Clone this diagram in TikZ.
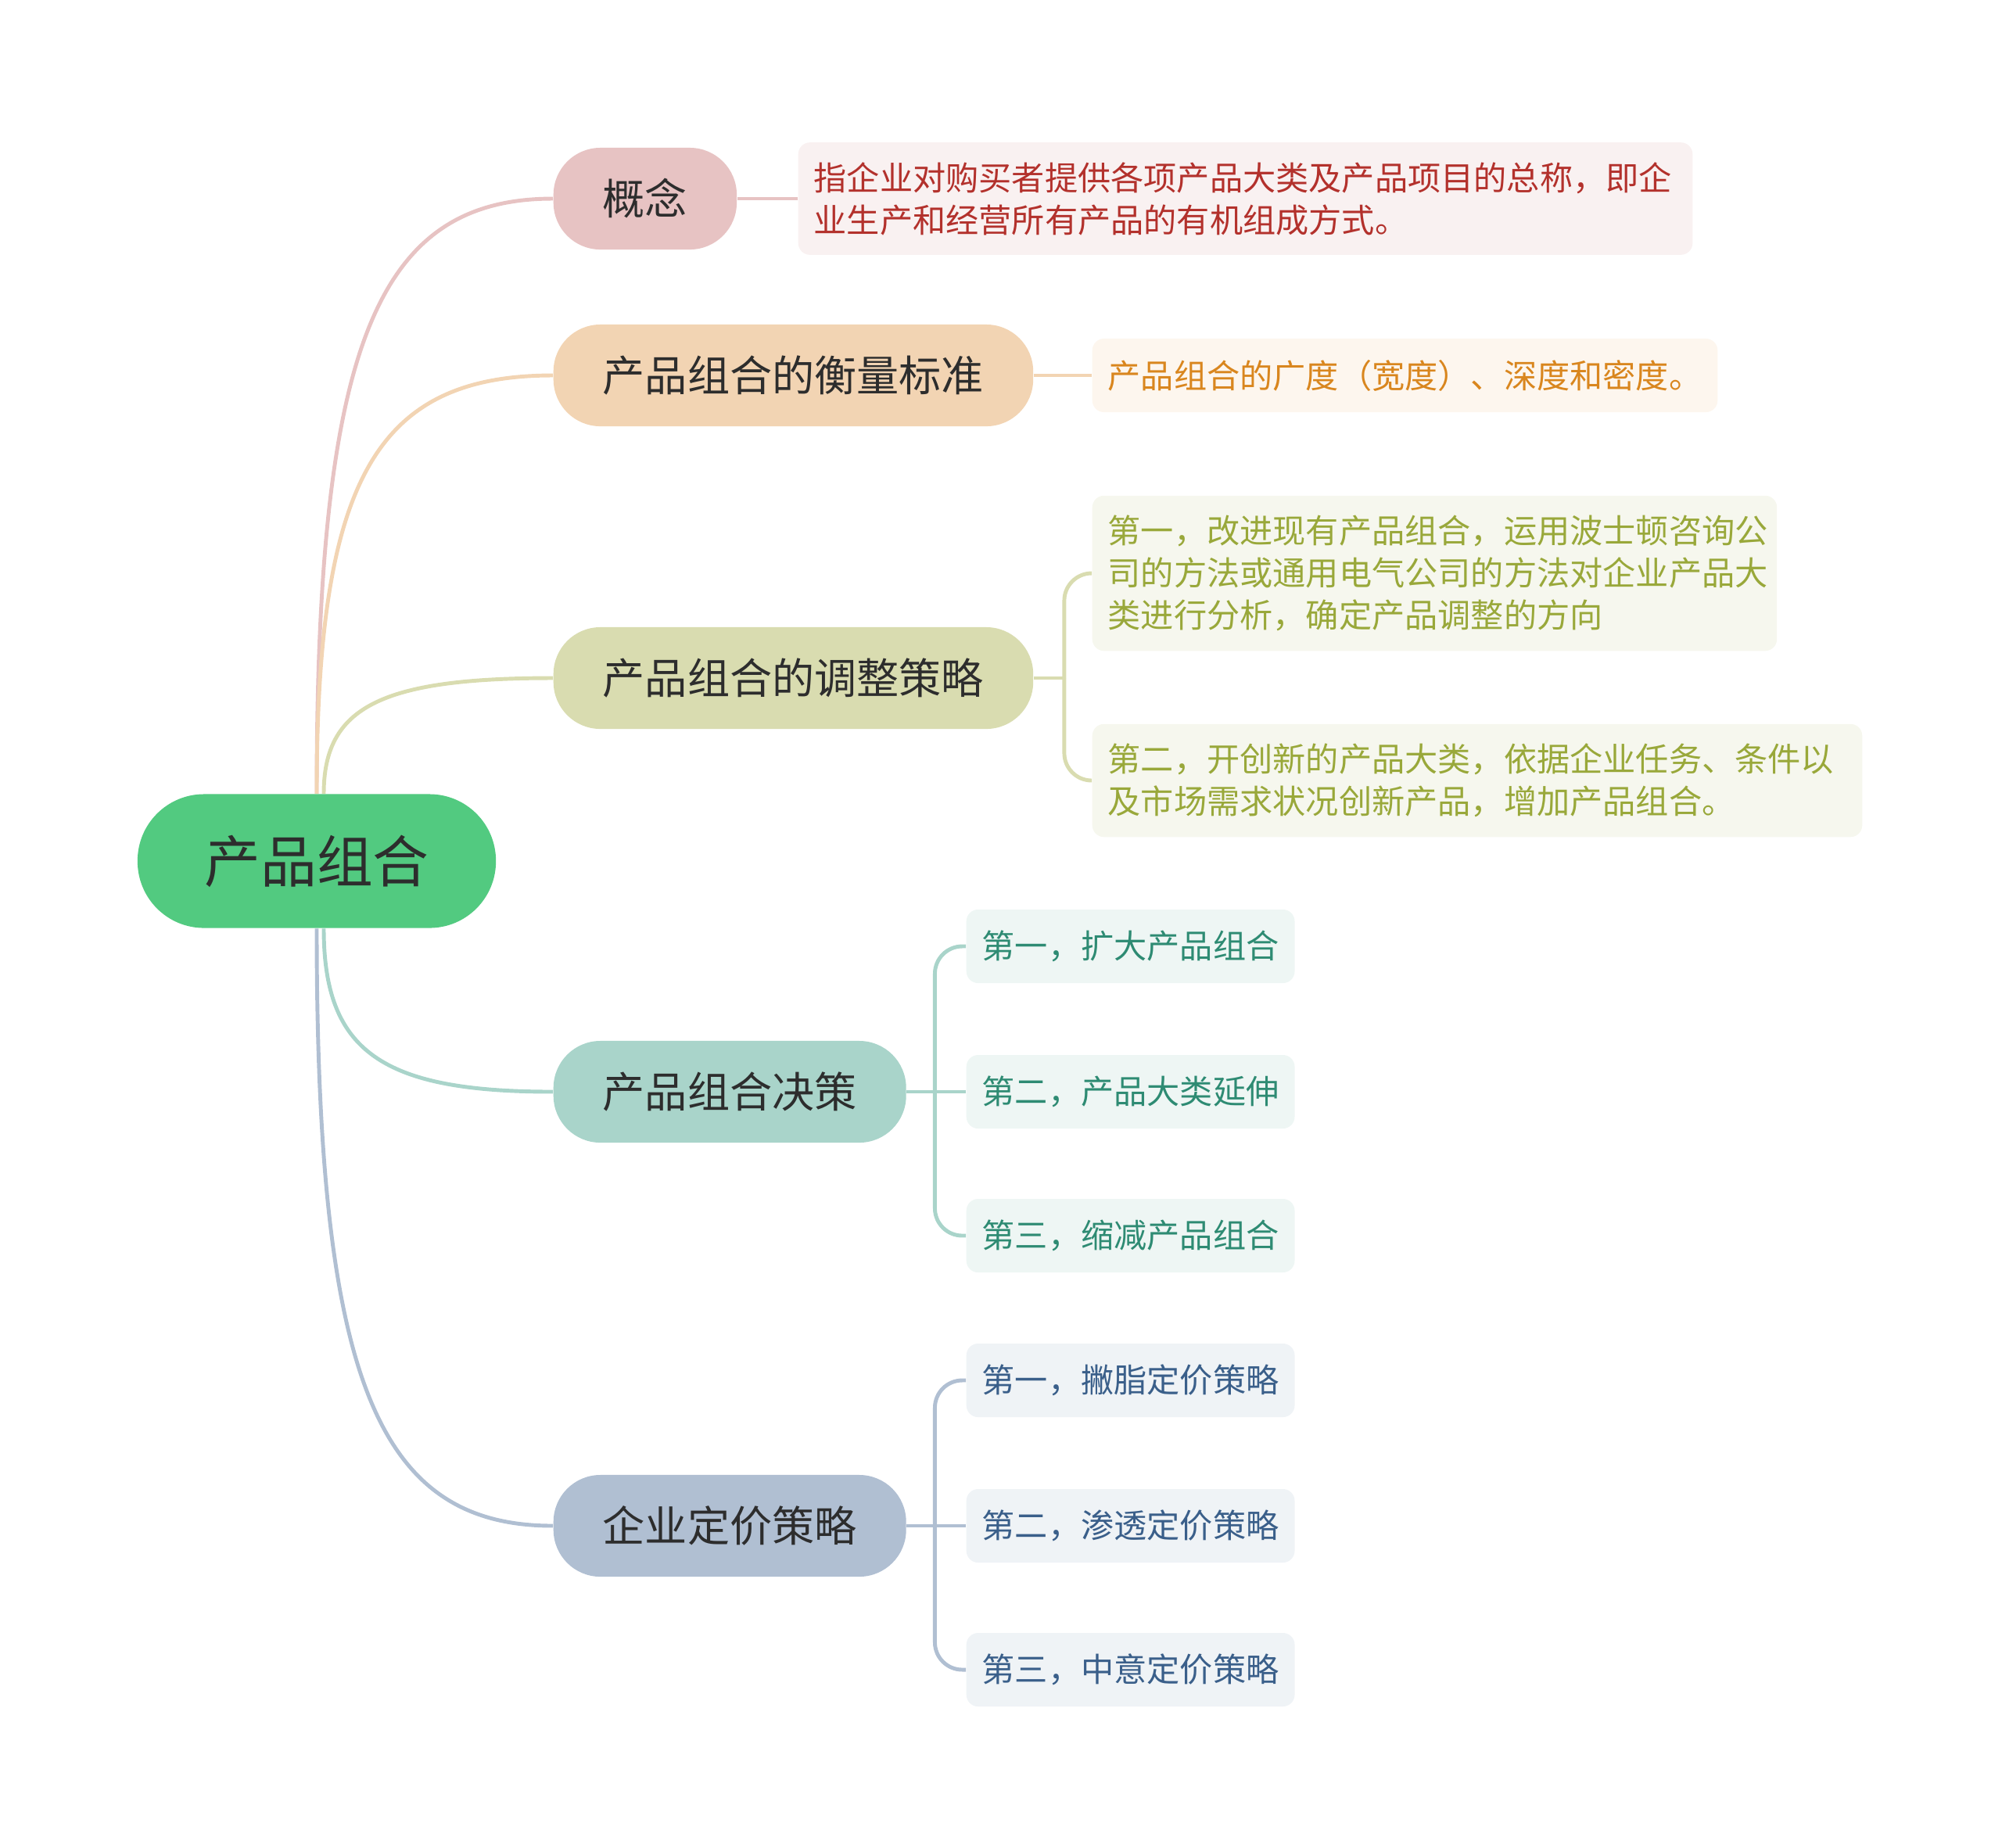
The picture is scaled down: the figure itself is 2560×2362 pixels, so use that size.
\documentclass[tikz,border=0pt]{standalone}
\usepackage{fontspec}
\setmainfont{Noto Sans CJK SC}
\usetikzlibrary{positioning,calc}
\definecolor{rootgreen}{RGB}{82,202,128}
\definecolor{textdark}{RGB}{45,45,45}
\definecolor{topicpink}{RGB}{231,195,195}
\definecolor{topicsand}{RGB}{242,212,179}
\definecolor{topicolive}{RGB}{217,220,176}
\definecolor{topicteal}{RGB}{169,212,202}
\definecolor{topicblue}{RGB}{176,191,210}
\definecolor{leafpink}{RGB}{249,241,241}
\definecolor{leafsand}{RGB}{253,246,238}
\definecolor{leafolive}{RGB}{246,247,238}
\definecolor{leafteal}{RGB}{238,246,244}
\definecolor{leafblue}{RGB}{239,243,246}
\definecolor{inkred}{RGB}{179,49,44}
\definecolor{inkorange}{RGB}{217,134,30}
\definecolor{inkolive}{RGB}{153,168,58}
\definecolor{inkteal}{RGB}{46,139,115}
\definecolor{inkblue}{RGB}{58,95,138}

\begin{document}
\begin{tikzpicture}[x=0.01cm, y=-0.01cm,
    topic/.style={rounded corners=0.6cm, minimum height=1.3cm, inner xsep=0.63cm, anchor=west, text=textdark, font=\fontsize{15.4}{18}\selectfont},
    leaf/.style={rounded corners=0.15cm, minimum height=0.94cm, inner xsep=0.2cm, inner ysep=0.25cm, anchor=west, align=left, font=\fontsize{12}{15.4}\selectfont},
    link/.style={line width=1.4pt}]
    \useasboundingbox (0,0) rectangle (2560,2362);

    \node[fill=rootgreen, rounded corners=0.85cm, minimum width=4.58cm, minimum height=1.71cm, text=textdark, font=\fontsize{20.4}{24}\selectfont] (root) at (405,1101) {产品组合};

    \node[topic, fill=topicpink] (gn) at (707,254) {概念};
    \node[topic, fill=topicsand] (hl) at (707,480) {产品组合的衡量标准};
    \node[topic, fill=topicolive] (tz) at (707,867) {产品组合的调整策略};
    \node[topic, fill=topicteal] (jc) at (707,1396) {产品组合决策};
    \node[topic, fill=topicblue] (dj) at (707,1951) {企业定价策略};

    \node[leaf, fill=leafpink, text=inkred, text width=11.03cm] (gn1) at (1020,254) {指企业对购买者提供各项产品大类及产品项目的总称，即企\\业生产和经营所有产品的有机组成方式。};
    \node[leaf, fill=leafsand, text=inkorange] (hl1) at (1396,480) {产品组合的广度（宽度）、深度和密度。};
    \node[leaf, fill=leafolive, text=inkolive, text width=8.35cm] (tz1) at (1396,733) {第一，改进现有产品组合，运用波士顿咨询公\\司的方法或通用电气公司的方法对企业产品大\\类进行分析，确定产品调整的方向};
    \node[leaf, fill=leafolive, text=inkolive, text width=9.44cm] (tz2) at (1396,998) {第二，开创新的产品大类，依据企业任务、条件以\\及市场需求状况创新产品，增加产品组合。};
    \node[leaf, fill=leafteal, text=inkteal] (jc1) at (1235,1210) {第一，扩大产品组合};
    \node[leaf, fill=leafteal, text=inkteal] (jc2) at (1235,1396) {第二，产品大类延伸};
    \node[leaf, fill=leafteal, text=inkteal] (jc3) at (1235,1580) {第三，缩减产品组合};
    \node[leaf, fill=leafblue, text=inkblue] (dj1) at (1235,1765) {第一，撇脂定价策略};
    \node[leaf, fill=leafblue, text=inkblue] (dj2) at (1235,1951) {第二，渗透定价策略};
    \node[leaf, fill=leafblue, text=inkblue] (dj3) at (1235,2135) {第三，中意定价策略};

    % root to topics
    \coordinate (rtopa) at (root.north);
    \coordinate (rtopb) at ([xshift=0.09cm]root.north);
    \coordinate (rbota) at (root.south);
    \coordinate (rbotb) at ([xshift=0.09cm]root.south);
    \coordinate (gnc) at (rtopa |- gn.west);
    \coordinate (hlc) at (rtopa |- hl.west);
    \coordinate (tzc) at (rtopb |- tz.west);
    \coordinate (jcc) at (rbotb |- jc.west);
    \coordinate (djc) at (rbota |- dj.west);
    \draw[link, draw=topicpink] (rtopa) .. controls ($(rtopa)!0.75!(gnc)$) and ($(gn.west)!0.75!(gnc)$) .. (gn.west);
    \draw[link, draw=topicsand] (rtopa) .. controls ($(rtopa)!0.75!(hlc)$) and ($(hl.west)!0.75!(hlc)$) .. (hl.west);
    \draw[link, draw=topicolive] (rtopb) .. controls ($(rtopb)!0.75!(tzc)$) and ($(tz.west)!0.75!(tzc)$) .. (tz.west);
    \draw[link, draw=topicteal] (rbotb) .. controls ($(rbotb)!0.75!(jcc)$) and ($(jc.west)!0.75!(jcc)$) .. (jc.west);
    \draw[link, draw=topicblue] (rbota) .. controls ($(rbota)!0.75!(djc)$) and ($(dj.west)!0.75!(djc)$) .. (dj.west);

    % topics to leaves
    \draw[link, draw=topicpink] (gn) -- (gn1);
    \draw[link, draw=topicsand] (hl) -- (hl1);

    \coordinate (tzfork) at ([xshift=0.39cm]tz.east);
    \draw[link, draw=topicolive] (tz.east) -- (tzfork);
    \draw[link, draw=topicolive, rounded corners=0.35cm] (tzfork) |- (tz1.west);
    \draw[link, draw=topicolive, rounded corners=0.35cm] (tzfork) |- (tz2.west);

    \coordinate (jcfork) at ([xshift=0.36cm]jc.east);
    \draw[link, draw=topicteal] (jc.east) -- (jc2.west);
    \draw[link, draw=topicteal, rounded corners=0.35cm] (jcfork) |- (jc1.west);
    \draw[link, draw=topicteal, rounded corners=0.35cm] (jcfork) |- (jc3.west);

    \coordinate (djfork) at ([xshift=0.36cm]dj.east);
    \draw[link, draw=topicblue] (dj.east) -- (dj2.west);
    \draw[link, draw=topicblue, rounded corners=0.35cm] (djfork) |- (dj1.west);
    \draw[link, draw=topicblue, rounded corners=0.35cm] (djfork) |- (dj3.west);
\end{tikzpicture}
\end{document}
